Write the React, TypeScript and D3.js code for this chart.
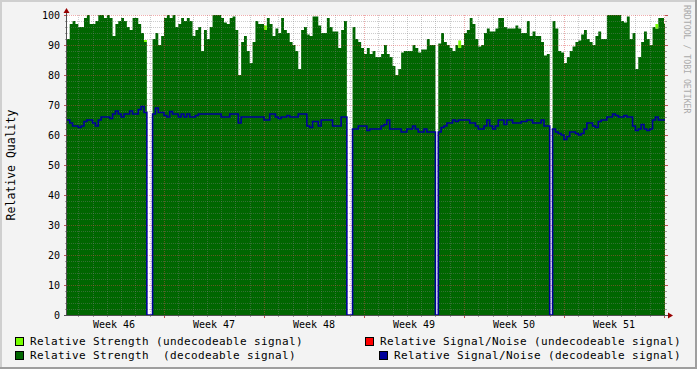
import * as d3 from "d3";

// samples every 0.2 day, starting 0.2 day into week 46
const startDay = 0.2;
const stepDay = 0.2;
const weekLabels = ["Week 46", "Week 47", "Week 48", "Week 49", "Week 50", "Week 51"];

// relative strength, decodeable signal (0 = no data)
const strength = [
  92, 97, 98, 97, 96, 96, 99, 100, 97, 97,
  98, 100, 100, 99, 100, 99, 93, 97, 98, 99,
  98, 96, 95, 99, 99, 97, 94, 91, 0, 0,
  92, 94, 90, 93, 99, 100, 99, 100, 96, 97,
  99, 98, 99, 98, 93, 95, 96, 88, 95, 92,
  96, 100, 100, 100, 99, 97.5, 97, 99, 99.5, 95,
  80, 91, 93, 88, 84, 91, 98, 97, 97, 95,
  99, 97, 93, 95.5, 94, 99, 95, 94, 91, 90,
  88, 82, 95, 96, 93.5, 93, 99.5, 99.5, 96.5, 94,
  94, 99, 96, 94.5, 94.5, 89, 95, 98, 0, 0,
  96, 92, 91, 89, 87, 89, 87, 88, 86, 86,
  87, 90, 87, 86, 83, 80, 82, 87.5, 88, 88,
  88, 90, 89, 87.5, 88.5, 88.5, 92, 90, 90, 0,
  90.5, 94, 91, 90, 89, 88, 90, 89, 90, 94,
  95, 99, 97, 92, 89.5, 90, 94, 95.5, 94.5, 94.5,
  95.5, 99, 99, 96, 95.5, 95.5, 95.5, 96.5, 95.5, 94,
  94, 98, 93, 94.5, 93, 93, 91, 86.5, 87, 0,
  98, 95.5, 88, 87.5, 84, 86, 88, 89.5, 91, 91.5,
  93.5, 95, 92, 91, 90, 93, 94.5, 92, 92, 100,
  100, 100, 100, 100, 98, 97.5, 99.5, 92, 94, 82,
  86, 91, 94.5, 92, 90, 96, 95.5, 99, 99, 97,
];

// relative signal/noise, decodeable signal
const snr = [
  65, 64, 63, 63, 62.5, 63, 64.5, 65, 65, 64,
  63, 65, 66, 66, 66, 65.5, 67, 68, 67, 66,
  67, 67, 68, 67, 67, 68.5, 69.5, 67.5, 0, 0,
  67, 69, 67.5, 67.5, 66.5, 66, 67.8, 67, 67, 66,
  67, 66, 67, 66, 66, 66.5, 67, 67, 67, 67,
  67, 67, 67, 67, 66, 66, 66, 67, 67, 67,
  64, 66, 66, 66, 66, 66, 66, 66, 66, 65,
  65, 67, 67, 66, 65.5, 66, 66, 66.5, 66, 66,
  66, 67, 67, 67, 63, 62.5, 64.5, 64.5, 63, 65,
  65, 65, 65, 63, 63, 63, 66, 66, 0, 0,
  62, 62, 63, 63, 63, 61.5, 62, 62, 62, 62,
  63, 63.5, 65, 62, 62, 62, 62, 61, 61, 62,
  62, 63, 62, 61, 61, 62, 61, 61, 61, 0,
  61, 62.5, 63, 64, 64, 65, 64.5, 65, 65, 65,
  65, 64, 64, 63, 62, 62, 63, 65, 63, 62,
  63, 65, 65, 63.5, 65, 65, 64, 64, 64, 64.5,
  64.5, 65, 65, 64, 64, 64, 65, 63, 63, 0,
  62, 61, 60.5, 60, 58.5, 59.5, 61, 61, 60.5, 60,
  60.5, 62, 64, 64, 63, 62.5, 64.5, 65, 65, 66,
  66, 67, 66.5, 66, 66, 66.5, 66, 66, 63, 61.5,
  62, 63.5, 62, 61.5, 62, 65, 66, 65, 65, 65,
];

// undecodeable strength on top of the decodeable part: [sample index, value]
const weakSpikes = [[27, 0.7], [69, 1.5], [137, 2.5], [206, 1.5]];

const legendItems = [
  { label: "Relative Strength (undecodeable signal)", color: "#77ff00", x: 15, row: 0 },
  { label: "Relative Signal/Noise (undecodeable signal)", color: "#ff0000", x: 365, row: 0 },
  { label: "Relative Strength  (decodeable signal)", color: "#006600", x: 15, row: 1 },
  { label: "Relative Signal/Noise (decodeable signal)", color: "#000099", x: 379, row: 1 },
];

const W = 697;
const H = 369;
const plotL = 67;
const plotR = 665;
const plotT = 15;
const plotB = 315;
const mono = "'DejaVu Sans Mono', monospace";

export default function App() {
  const x = d3.scaleLinear().domain([0, 42]).range([64, 664]);
  const y = d3.scaleLinear().domain([0, 100]).range([plotB, plotT]);

  const weak = strength.map(() => 0);
  weakSpikes.forEach(([i, v]) => (weak[i] = v));

  const rows = strength.map((s, i) => ({ t: startDay + i * stepDay, s, n: snr[i], w: weak[i] }));
  const last = rows[rows.length - 1];
  rows.push({ ...last, t: startDay + rows.length * stepDay });

  const areaStrong = d3.area<any>().x((d) => x(d.t)).y0(y(0)).y1((d) => y(d.s)).curve(d3.curveStepAfter);
  const areaWeak = d3.area<any>().x((d) => x(d.t)).y0((d) => y(d.s)).y1((d) => y(d.s + d.w)).curve(d3.curveStepAfter);
  const lineSnr = d3.line<any>().x((d) => x(d.t)).y((d) => y(d.n)).curve(d3.curveStepAfter);

  const days = d3.range(1, 43);
  const minorDays = days.filter((d) => d % 7 !== 0 && x(d) > plotL && x(d) < plotR);
  const majorDays = days.filter((d) => d % 7 === 0 && x(d) < plotR);
  const minorY = d3.range(2, 100, 2).filter((v) => v % 10 !== 0);
  const majorY = d3.range(0, 101, 10);

  return (
    <div style={{ position: "fixed", left: 0, top: 0 }}>
      <svg width={W} height={H} style={{ display: "block" }}>
        <defs>
          <clipPath id="plot">
            <rect x={plotL} y={plotT} width={plotR - plotL} height={plotB - plotT} />
          </clipPath>
        </defs>
        <rect x={0} y={0} width={W} height={H} fill="#f3f3f3" />
        <rect x={0} y={0} width={W} height={2} fill="#cfcfcf" />
        <rect x={0} y={0} width={2} height={H} fill="#cfcfcf" />
        <rect x={0} y={H - 2} width={W} height={2} fill="#9e9e9e" />
        <rect x={W - 2} y={0} width={2} height={H} fill="#9e9e9e" />

        <rect x={plotL} y={plotT} width={plotR - plotL} height={plotB - plotT} fill="#ffffff" />

        <g clipPath="url(#plot)">
          <path d={areaStrong(rows) || ""} fill="#006600" />
          <path d={areaWeak(rows) || ""} fill="#77ff00" />
        </g>

        {/* grid */}
        <g strokeWidth={1} strokeDasharray="1,1">
          {minorY.map((v) => (
            <line key={"my" + v} x1={plotL} x2={plotR} y1={y(v) + 0.5} y2={y(v) + 0.5} stroke="rgba(128,128,128,0.4)" />
          ))}
          {minorDays.map((d) => (
            <line key={"mx" + d} x1={Math.round(x(d)) + 0.5} x2={Math.round(x(d)) + 0.5} y1={plotT} y2={plotB} stroke="rgba(128,128,128,0.4)" />
          ))}
          {majorY.slice(1).map((v) => (
            <line key={"My" + v} x1={plotL} x2={plotR} y1={y(v) + 0.5} y2={y(v) + 0.5} stroke="rgba(220,70,70,0.45)" />
          ))}
          {majorDays.map((d) => (
            <line key={"Mx" + d} x1={Math.round(x(d)) + 0.5} x2={Math.round(x(d)) + 0.5} y1={plotT} y2={plotB} stroke="rgba(220,70,70,0.45)" />
          ))}
        </g>

        <g clipPath="url(#plot)">
          <path d={lineSnr(rows) || ""} fill="none" stroke="#000099" strokeWidth={1.6} />
        </g>

        {/* ticks */}
        {minorY.map((v) => (
          <g key={"ty" + v} stroke="#a0a0a0">
            <line x1={plotL - 2} x2={plotL} y1={y(v) + 0.5} y2={y(v) + 0.5} />
            <line x1={plotR} x2={plotR + 2} y1={y(v) + 0.5} y2={y(v) + 0.5} />
          </g>
        ))}
        {majorY.map((v) => (
          <g key={"tY" + v} stroke="#c05050">
            <line x1={plotL - 3} x2={plotL} y1={y(v) + 0.5} y2={y(v) + 0.5} />
            <line x1={plotR} x2={plotR + 3} y1={y(v) + 0.5} y2={y(v) + 0.5} />
          </g>
        ))}
        {minorDays.map((d) => (
          <line key={"tx" + d} x1={Math.round(x(d)) + 0.5} x2={Math.round(x(d)) + 0.5} y1={plotB} y2={plotB + 2} stroke="#a0a0a0" />
        ))}
        {majorDays.map((d) => (
          <line key={"tX" + d} x1={Math.round(x(d)) + 0.5} x2={Math.round(x(d)) + 0.5} y1={plotB} y2={plotB + 3} stroke="#c05050" />
        ))}

        {/* axes */}
        <line x1={plotL - 0.5} x2={plotL - 0.5} y1={plotB} y2={10} stroke="#505050" />
        <line x1={64} x2={669} y1={plotB + 0.5} y2={plotB + 0.5} stroke="#505050" />
        <path d={`M${plotL - 3.5},${13} L${plotL - 0.5},${8} L${plotL + 2.5},${13} Z`} fill="#990000" />
        <path d={`M${668},${plotB - 2.5} L${673},${plotB + 0.5} L${668},${plotB + 3.5} Z`} fill="#990000" />

        {/* labels */}
        <g fontFamily={mono} fontSize={10} fill="#000">
          {majorY.map((v) => (
            <text key={"ly" + v} x={60} y={y(v) + 0.5} dy="0.35em" textAnchor="end">
              {v}
            </text>
          ))}
          {weekLabels.map((w, k) => (
            <text key={w} x={x(3.5 + 7 * k)} y={328} textAnchor="middle">
              {w}
            </text>
          ))}
        </g>
        <text
          transform="translate(15,165) rotate(-90)"
          textAnchor="middle"
          fontFamily={mono}
          fontSize={11.5}
          fill="#000"
        >
          Relative Quality
        </text>
        <text
          transform="translate(684,5) rotate(90)"
          fontFamily={mono}
          fontSize={8.2}
          fill="#aaaaaa"
        >
          RRDTOOL / TOBI OETIKER
        </text>

        {/* legend */}
        {legendItems.map((it) => {
          const by = 337 + it.row * 14;
          return (
            <g key={it.label}>
              <rect x={it.x + 0.5} y={by + 0.5} width={8} height={8} fill={it.color} stroke="#000" strokeWidth={1} />
              <text
                x={it.x + 15}
                y={by + 8}
                fontFamily={mono}
                fontSize={11}
                letterSpacing={0.38}
                fill="#000"
                style={{ whiteSpace: "pre" }}
              >
                {it.label}
              </text>
            </g>
          );
        })}
      </svg>
    </div>
  );
}
